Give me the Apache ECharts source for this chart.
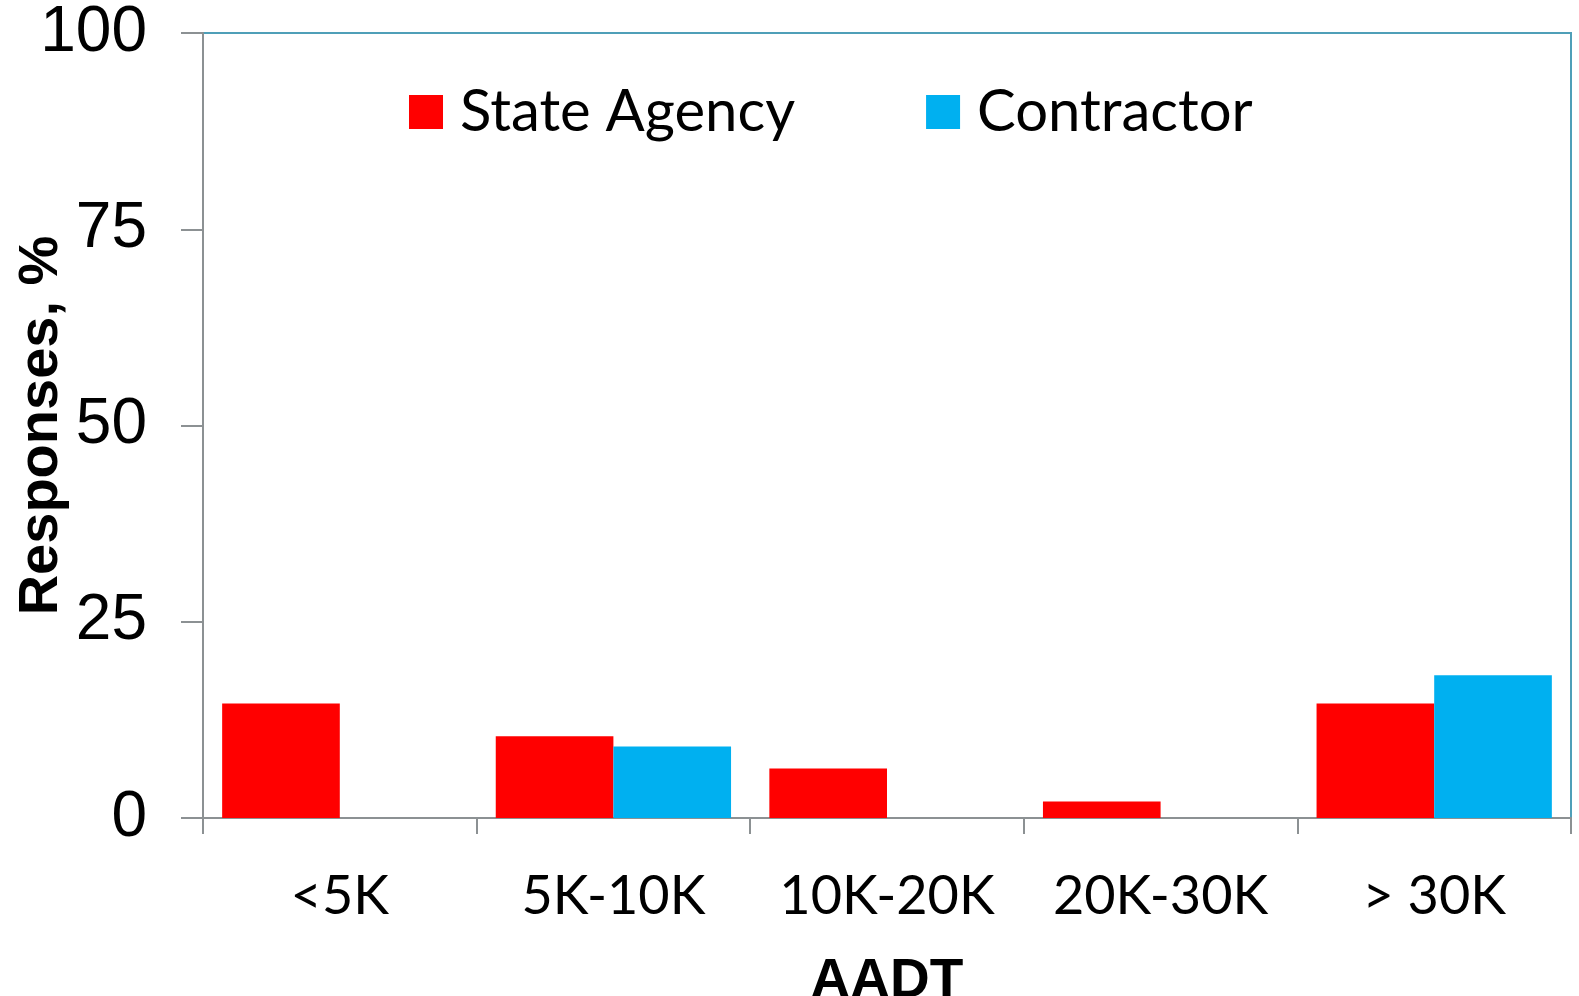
<!DOCTYPE html>
<html>
<head>
<meta charset="utf-8">
<script src="https://cdn.jsdelivr.net/npm/echarts@6/dist/echarts.min.js"></script>
<style>
  html, body { margin: 0; padding: 0; background: #fff; }
  #chart { width: 1579px; height: 996px; }
</style>
</head>
<body>
<div id="chart"></div>
<script>
// AADT bands and response shares (%)
var categories = ["<5K", "5K-10K", "10K-20K", "20K-30K", "> 30K"];
var stateAgency = [14.6, 10.4, 6.3, 2.1, 14.6];
var contractor = [0, 9.1, 0, 0, 18.2];
var yTicks = [0, 25, 50, 75, 100];

var chart = echarts.init(document.getElementById("chart"));

chart.setOption({
  animation: false,
  backgroundColor: "#ffffff",
  grid: {
    left: 203,
    right: 8,
    top: 33,
    bottom: 178,
    containLabel: false,
    outerBoundsMode: "none",
    show: true,
    borderColor: "#4f9fb8",
    borderWidth: 2
  },
  legend: {
    left: 404,
    top: 78,
    itemWidth: 34,
    itemHeight: 34,
    itemGap: 131,
    icon: "rect",
    textStyle: {
      fontFamily: "Lato",
      fontSize: 58,
      color: "#000",
      padding: [0, 0, 0, 12]
    },
    data: ["State Agency", "Contractor"]
  },
  xAxis: {
    type: "category",
    data: categories,
    name: "AADT",
    nameLocation: "middle",
    nameGap: 136,
    nameMoveOverlap: false,
    nameTextStyle: {
      fontFamily: "Liberation Sans",
      fontWeight: "bold",
      fontSize: 55,
      color: "#000"
    },
    axisLine: { lineStyle: { color: "#8c9193", width: 2 } },
    axisTick: {
      show: true,
      length: 16,
      alignWithLabel: false,
      lineStyle: { color: "#8c9193", width: 2 }
    },
    axisLabel: {
      interval: 0,
      margin: 52,
      fontFamily: "Lato",
      fontSize: 54,
      color: "#000"
    },
    splitLine: { show: false }
  },
  yAxis: {
    type: "value",
    min: yTicks[0],
    max: yTicks[yTicks.length - 1],
    interval: 25,
    name: "Responses, %",
    nameLocation: "middle",
    nameGap: 133,
    nameMoveOverlap: false,
    nameTextStyle: {
      fontFamily: "Liberation Sans",
      fontWeight: "bold",
      fontSize: 56,
      color: "#000"
    },
    axisLine: { show: true, lineStyle: { color: "#8c9193", width: 2 } },
    axisTick: {
      show: true,
      length: 22,
      lineStyle: { color: "#8c9193", width: 2 }
    },
    axisLabel: {
      margin: 56,
      fontFamily: "Liberation Sans",
      fontSize: 64,
      color: "#000"
    },
    splitLine: { show: false }
  },
  series: [
    {
      name: "State Agency",
      type: "bar",
      data: stateAgency,
      barWidth: "43%",
      barGap: "0%",
      itemStyle: { color: "#ff0000" }
    },
    {
      name: "Contractor",
      type: "bar",
      data: contractor,
      barWidth: "43%",
      barGap: "0%",
      itemStyle: { color: "#00b0f0" }
    }
  ]
});
</script>
</body>
</html>
